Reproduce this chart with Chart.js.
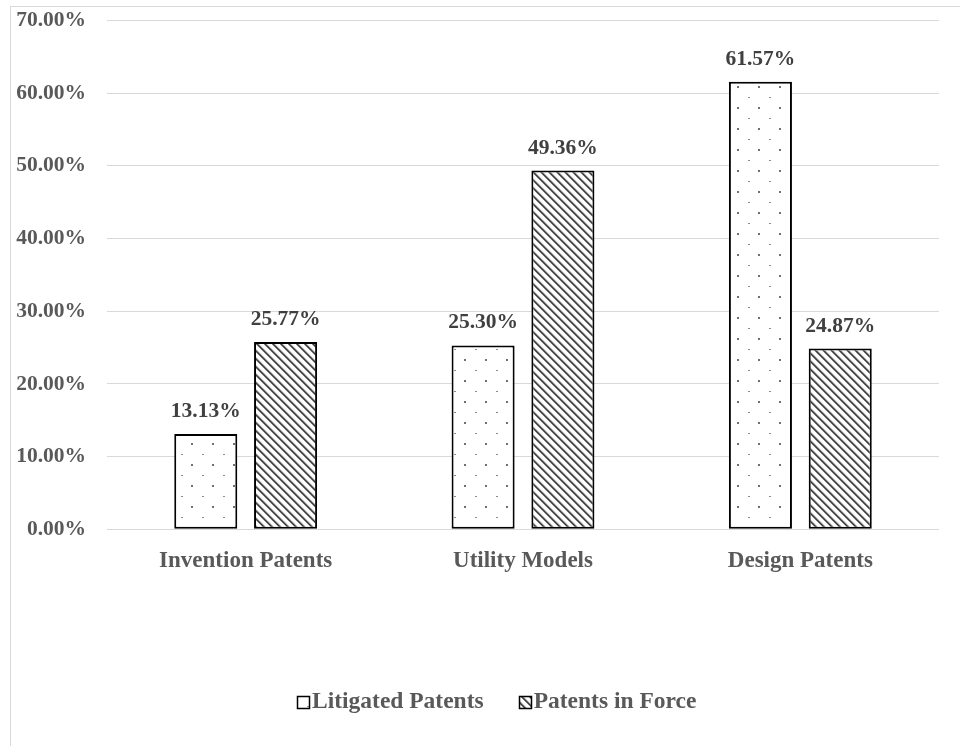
<!DOCTYPE html>
<html>
<head>
<meta charset="utf-8">
<script src="https://cdn.jsdelivr.net/npm/chart.js@4"></script>
<style>
  html, body { margin: 0; padding: 0; background: #ffffff; overflow: hidden; }
  #frame { position: absolute; left: 10px; top: 6px; width: 1000px; height: 800px;
           border: 1px solid #d9d9d9; box-sizing: border-box; }
  #chart { position: absolute; left: 0; top: 0; }
</style>
</head>
<body>
<div id="frame"></div>
<canvas id="chart" width="960" height="746"></canvas>
<script>
// Share of each patent type among litigated patents vs. patents in force (%)
const categories = ['Invention Patents', 'Utility Models', 'Design Patents'];
const seriesNames = ['Litigated Patents', 'Patents in Force'];
const litigatedPatents = [13.13, 25.30, 61.57];
const patentsInForce = [25.77, 49.36, 24.87];
const yAxisMax = 70;
const yAxisStep = 10;

const FONT = '"Liberation Serif", "Times New Roman", serif';
const TEXT_GREY = '#595959';

// Dotted fill: staggered grid of small grey dots
function dotPattern(ctx) {
  const c = document.createElement('canvas');
  c.width = 21; c.height = 21;
  const g = c.getContext('2d');
  g.fillStyle = '#ffffff';
  g.fillRect(0, 0, 21, 21);
  g.fillStyle = '#707070';
  g.fillRect(2, 2, 2, 2);
  g.fillStyle = '#8c8c8c';
  g.fillRect(13, 13, 2, 1);
  return ctx.createPattern(c, 'repeat');
}

// Hatched fill: dense downward diagonal stripes
function hatchPattern(ctx) {
  const n = 8;
  const c = document.createElement('canvas');
  c.width = n; c.height = n;
  const g = c.getContext('2d');
  g.fillStyle = '#ffffff';
  g.fillRect(0, 0, n, n);
  for (let y = 0; y < n; y++) {
    for (let x = 0; x < n; x++) {
      const d = ((x - y) % n + n) % n;
      if (d === 1) g.fillStyle = '#383838';
      else if (d === 0 || d === 2) g.fillStyle = '#7c7c7c';
      else if (d === 3) g.fillStyle = '#d4d4d4';
      else continue;
      g.fillRect(x, y, 1, 1);
    }
  }
  return ctx.createPattern(c, 'repeat');
}

// Value labels above every bar
const valueLabels = {
  id: 'valueLabels',
  afterDatasetsDraw(chart) {
    const ctx = chart.ctx;
    ctx.save();
    ctx.font = 'bold 21.5px ' + FONT;
    ctx.fillStyle = '#404040';
    ctx.textAlign = 'center';
    ctx.textBaseline = 'alphabetic';
    chart.data.datasets.forEach((ds, i) => {
      chart.getDatasetMeta(i).data.forEach((bar, j) => {
        ctx.fillText(ds.data[j].toFixed(2) + '%', bar.x, bar.y - 17);
      });
    });
    ctx.restore();
  }
};

// Legend row at the foot of the chart: swatch + series name per dataset
const footLegend = {
  id: 'footLegend',
  afterDraw(chart) {
    const ctx = chart.ctx;
    const box = 12, gap = 3, itemGap = 35, centerX = 497, baseline = 708;
    ctx.save();
    ctx.font = 'bold 23.5px ' + FONT;
    const items = chart.data.datasets.map(ds => ({
      ds, w: box + gap + ctx.measureText(ds.label).width
    }));
    const total = items.reduce((s, it) => s + it.w, 0) + itemGap * (items.length - 1);
    let x = Math.round(centerX - total / 2);
    items.forEach(it => {
      const bx = Math.round(x) + 0.5, by = baseline - box + 0.5;
      ctx.fillStyle = it.ds.backgroundColor;
      ctx.fillRect(bx, by, box, box);
      ctx.lineWidth = 1.5;
      ctx.strokeStyle = '#000000';
      ctx.strokeRect(bx, by, box, box);
      ctx.fillStyle = TEXT_GREY;
      ctx.textAlign = 'left';
      ctx.textBaseline = 'alphabetic';
      ctx.fillText(it.ds.label, x + box + gap, baseline);
      x += it.w + itemGap;
    });
    ctx.restore();
  }
};

const canvas = document.getElementById('chart');
const ctx = canvas.getContext('2d');

new Chart(ctx, {
  type: 'bar',
  data: {
    labels: categories,
    datasets: [
      {
        label: seriesNames[0],
        data: litigatedPatents,
        backgroundColor: dotPattern(ctx),
        borderColor: '#000000',
        borderWidth: 2,
        borderSkipped: false
      },
      {
        label: seriesNames[1],
        data: patentsInForce,
        backgroundColor: hatchPattern(ctx),
        borderColor: '#000000',
        borderWidth: 2,
        borderSkipped: false
      }
    ]
  },
  options: {
    responsive: false,
    animation: false,
    devicePixelRatio: 1,
    categoryPercentage: 0.5755,
    barPercentage: 0.79,
    layout: { padding: { top: 20.6, right: 21, bottom: 0, left: 0 } },
    scales: {
      x: {
        grid: { display: false },
        border: { display: false },
        ticks: {
          color: TEXT_GREY,
          font: { family: FONT, size: 23, weight: 'bold' },
          padding: 10
        },
        // leave room below the axis for the legend row
        afterFit(scale) { scale.height = 216.7; scale.paddingLeft = 0; scale.paddingRight = 0; }
      },
      y: {
        min: 0,
        max: yAxisMax,
        grid: { color: '#d9d9d9', lineWidth: 1, drawTicks: false },
        border: { display: false },
        ticks: {
          stepSize: yAxisStep,
          padding: 21,
          color: TEXT_GREY,
          font: { family: FONT, size: 21.5, weight: 'bold' },
          callback: (v) => Number(v).toFixed(2) + '%'
        },
        afterFit(scale) { scale.width = 107; scale.paddingTop = 0; scale.paddingBottom = 0; }
      }
    },
    plugins: {
      legend: { display: false },
      tooltip: { enabled: false }
    }
  },
  plugins: [valueLabels, footLegend]
});
</script>
</body>
</html>
